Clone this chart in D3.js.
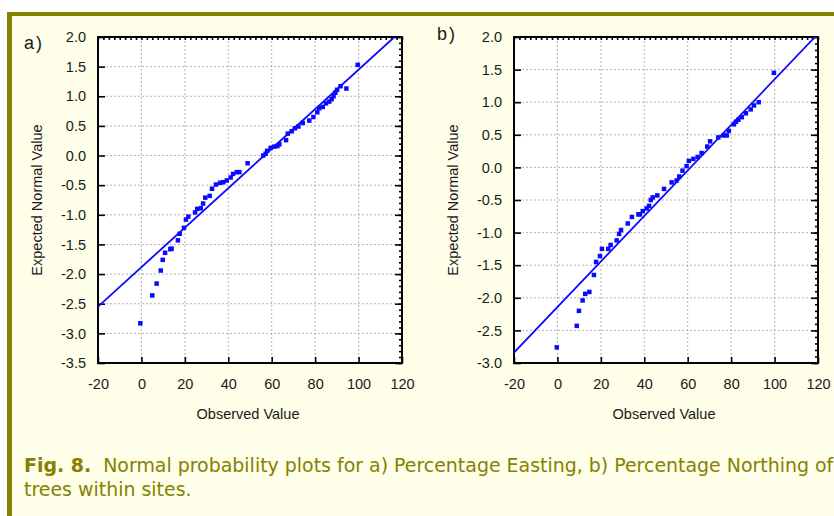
<!DOCTYPE html>
<html>
<head>
<meta charset="utf-8">
<script src="https://cdn.jsdelivr.net/npm/d3@7"></script>
<style>
  body { margin: 0; background: #fff; }
  svg { display: block; }
</style>
</head>
<body>
<div id="chart"></div>
<script>

// Data - panel a) Percentage Easting
const aObserved = [-0.5, 5.0, 7.0, 8.9, 9.8, 10.9, 13.3, 13.9, 16.8, 17.6, 19.6, 20.5, 21.6, 24.7, 25.7, 27.3,
  28.4, 29.4, 31.4, 32.5, 34.3, 36.2, 37.7, 39.3, 41.1, 42.2, 43.9, 45.1, 48.9, 56.1, 57.2, 57.9, 59.5,
  61.1, 62.6, 63.5, 66.6, 67.4, 69.2, 70.7, 72.3, 74.3, 77.3, 79.2, 81.0, 81.9, 83.5, 85.0, 86.5, 87.6,
  88.5, 89.3, 90.1, 91.7, 94.4, 99.6]
const aExpected = [-2.83, -2.36, -2.16, -1.94, -1.76, -1.64, -1.58, -1.57, -1.43, -1.32, -1.22, -1.08, -1.03, -0.96, -0.90, -0.89,
  -0.81, -0.71, -0.68, -0.56, -0.49, -0.46, -0.45, -0.42, -0.37, -0.31, -0.28, -0.28, -0.13, 0.00, 0.03, 0.08, 0.13,
  0.15, 0.16, 0.19, 0.26, 0.37, 0.41, 0.46, 0.49, 0.55, 0.59, 0.65, 0.73, 0.80, 0.82, 0.88, 0.91, 0.95,
  1.00, 1.06, 1.11, 1.17, 1.13, 1.53]
const aFitObserved = [-20, 116.5]
const aFitExpected = [-2.55, 2.0]

// Data - panel b) Percentage Northing
const bObserved = [-0.3, 8.9, 9.9, 11.6, 12.8, 14.7, 16.8, 17.8, 19.6, 20.5, 23.4, 24.5, 27.3, 28.4, 29.3, 32.4,
  34.3, 37.3, 38.0, 39.3, 41.1, 42.2, 43.0, 43.9, 46.0, 49.1, 52.6, 54.9, 56.1, 57.6, 59.5, 60.5, 62.6,
  64.6, 66.4, 69.0, 70.3, 74.1, 76.4, 78.0, 78.9, 81.3, 82.2, 83.3, 84.9, 86.8, 89.0, 90.5, 92.7, 99.7]
const bExpected = [-2.76, -2.43, -2.20, -2.04, -1.94, -1.91, -1.65, -1.45, -1.36, -1.25, -1.25, -1.19, -1.12, -1.02, -0.96, -0.86,
  -0.76, -0.72, -0.72, -0.67, -0.63, -0.59, -0.50, -0.46, -0.43, -0.33, -0.23, -0.20, -0.14, -0.05, 0.02, 0.10, 0.13,
  0.16, 0.22, 0.32, 0.40, 0.46, 0.49, 0.49, 0.56, 0.66, 0.70, 0.73, 0.77, 0.83, 0.89, 0.95, 1.00, 1.45]
const bFitObserved = [-20, 118.6]
const bFitExpected = [-2.84, 2.0]

// Ticks
const xTicks = [-20, 0, 20, 40, 60, 80, 100, 120]
const yTicksA = [-3.5, -3.0, -2.5, -2.0, -1.5, -1.0, -0.5, 0.0, 0.5, 1.0, 1.5, 2.0]
const yTicksB = [-3.0, -2.5, -2.0, -1.5, -1.0, -0.5, 0.0, 0.5, 1.0, 1.5, 2.0]

const olive = '#858200'
const blue = '#0a0aff'
const font = 'Arial, "Liberation Sans", sans-serif'

const svg = d3.select('#chart')
  .append('svg')
  .attr('width', 834)
  .attr('height', 516)
  .style('font-family', font)

// frame of the figure box
svg.append('rect').attr('x', 7).attr('y', 12).attr('width', 827).attr('height', 504).attr('fill', '#fefee9')
svg.append('rect').attr('x', 7).attr('y', 12).attr('width', 827).attr('height', 4).attr('fill', olive)
svg.append('rect').attr('x', 7).attr('y', 12).attr('width', 5).attr('height', 504).attr('fill', olive)

function panel(opts) {
  const { id, left, right, top, bottom, yMin, yTicks, obs, exp, fitX, fitY, letter, letterPos } = opts

  const xScale = d3.scaleLinear().domain([-20, 120]).range([left, right])
  const yScale = d3.scaleLinear().domain([yMin, 2]).range([bottom, top])

  const g = svg.append('g')

  g.append('rect')
    .attr('x', left).attr('y', top)
    .attr('width', right - left).attr('height', bottom - top)
    .attr('fill', '#fff')

  // dotted grid
  g.append('g').selectAll('line')
    .data(xTicks.slice(1, -1))
    .join('line')
    .attr('x1', d => xScale(d)).attr('x2', d => xScale(d))
    .attr('y1', top).attr('y2', bottom)
    .attr('stroke', '#b4b4b4').attr('stroke-dasharray', '2,2')
  g.append('g').selectAll('line')
    .data(yTicks.slice(1, -1))
    .join('line')
    .attr('y1', d => yScale(d)).attr('y2', d => yScale(d))
    .attr('x1', left).attr('x2', right)
    .attr('stroke', '#b4b4b4').attr('stroke-dasharray', '2,2')

  // axes, ticks inward
  g.append('g')
    .attr('transform', `translate(0,${bottom})`)
    .call(d3.axisBottom(xScale).tickValues(xTicks).tickSizeInner(-6).tickSizeOuter(0).tickPadding(16)
      .tickFormat(d => String(d)))
  g.append('g')
    .attr('transform', `translate(${left},0)`)
    .call(d3.axisLeft(yScale).tickValues(yTicks).tickSizeInner(-7).tickSizeOuter(0).tickPadding(12)
      .tickFormat(d => d.toFixed(1)))

  const minorX = d3.range(-20, 120.01, 2.5)
  g.append('g')
    .attr('transform', `translate(0,${top})`)
    .call(d3.axisTop(xScale).tickValues(minorX).tickSizeInner(-3).tickSizeOuter(0).tickFormat(''))
  const minorY = d3.range(yMin, 2.001, 0.1)
  g.append('g')
    .attr('transform', `translate(${right},0)`)
    .call(d3.axisRight(yScale).tickValues(minorY).tickSizeInner(-3).tickSizeOuter(0).tickFormat(''))
  g.append('g')
    .attr('transform', `translate(${right},0)`)
    .call(d3.axisRight(yScale).tickValues(yTicks).tickSizeInner(-7).tickSizeOuter(0).tickFormat(''))

  g.selectAll('.domain').remove()
  g.selectAll('.tick line').attr('stroke', '#000').attr('stroke-width', 1.6)
  g.selectAll('.tick text').attr('font-size', 14.5).attr('fill', '#1a1a1a').attr('font-family', font)

  g.append('rect')
    .attr('x', left).attr('y', top)
    .attr('width', right - left).attr('height', bottom - top)
    .attr('fill', 'none').attr('stroke', '#000').attr('stroke-width', 2)

  // clip for the fit line
  svg.append('clipPath').attr('id', 'clip-' + id)
    .append('rect').attr('x', left).attr('y', top)
    .attr('width', right - left).attr('height', bottom - top)

  const fit = fitX.map((d, i) => [d, fitY[i]])
  const lineGenerator = d3.line()
    .x(d => xScale(d[0]))
    .y(d => yScale(d[1]))
  g.append('path')
    .datum(fit)
    .attr('d', lineGenerator)
    .attr('fill', 'none')
    .attr('stroke', blue)
    .attr('stroke-width', 1.8)
    .attr('clip-path', `url(#clip-${id})`)

  const points = obs.map((d, i) => [d, exp[i]])
  g.append('g').selectAll('rect')
    .data(points)
    .join('rect')
    .attr('x', d => xScale(d[0]) - 2.25)
    .attr('y', d => yScale(d[1]) - 2.25)
    .attr('width', 4.5).attr('height', 4.5)
    .attr('fill', blue)

  // labels
  g.append('text')
    .attr('x', (left + right) / 2 - 2).attr('y', 419)
    .attr('text-anchor', 'middle')
    .attr('font-size', 14.5).attr('fill', '#1a1a1a')
    .text('Observed Value')
  g.append('text')
    .attr('transform', `translate(${left - 56},${(top + bottom) / 2}) rotate(-90)`)
    .attr('text-anchor', 'middle')
    .attr('font-size', 14.5).attr('fill', '#1a1a1a')
    .text('Expected Normal Value')
  g.append('text')
    .attr('x', letterPos[0]).attr('y', letterPos[1])
    .attr('font-size', 18).attr('fill', '#1a1a1a')
    .attr('letter-spacing', 2)
    .text(letter)
}

panel({ id: 'a', left: 98, right: 402, top: 37, bottom: 363, yMin: -3.5, yTicks: yTicksA,
  obs: aObserved, exp: aExpected, fitX: aFitObserved, fitY: aFitExpected, letter: 'a)', letterPos: [24, 49] })
panel({ id: 'b', left: 514, right: 818, top: 37, bottom: 363, yMin: -3.0, yTicks: yTicksB,
  obs: bObserved, exp: bExpected, fitX: bFitObserved, fitY: bFitExpected, letter: 'b)', letterPos: [437, 40] })

// caption, sized so the first line spans the box like the original
const caption = svg.append('text')
  .attr('font-family', '"DejaVu Sans", Verdana, sans-serif')
  .attr('font-size', 16)
  .attr('fill', olive)
const line1 = caption.append('tspan').attr('x', 24).attr('y', 472)
line1.append('tspan').attr('font-weight', 'bold').text('Fig. 8.')
line1.append('tspan').text('\u00a0 Normal probability plots for a) Percentage Easting, b) Percentage Northing of')
caption.append('tspan').attr('x', 24).attr('y', 496).text('trees within sites.')

const w = line1.node().getComputedTextLength()
caption.attr('font-size', 16 * 810 / w)

</script>
</body>
</html>
